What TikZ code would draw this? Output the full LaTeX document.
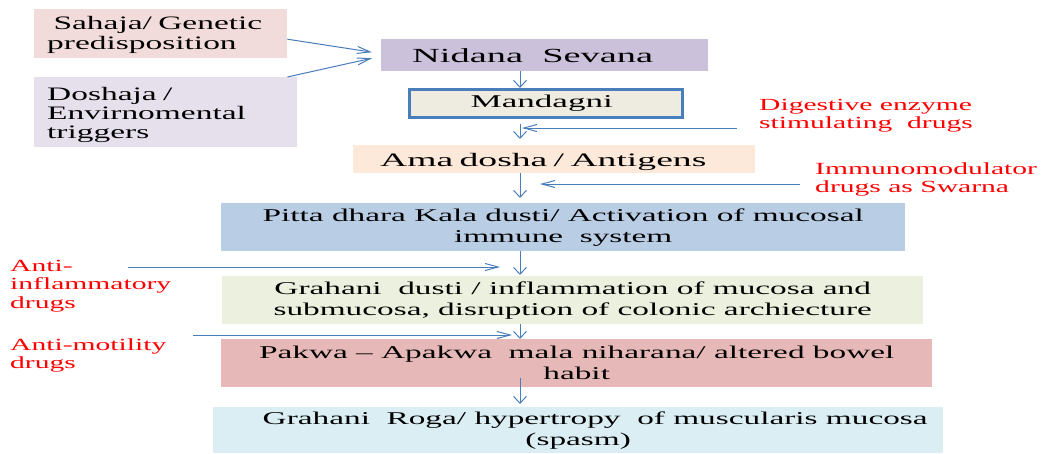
\documentclass[tikz,border=0pt]{standalone}
\usepackage{fontspec}
\setmainfont{Liberation Serif}[FakeStretch=1.85]
\newfontfamily\causefont{Liberation Serif}[FakeStretch=1.76]
\newfontfamily\titlefont{Liberation Serif}[FakeStretch=1.92]
\newfontfamily\agnifont{Liberation Serif}[FakeStretch=1.95]
\newfontfamily\amafont{Liberation Serif}[FakeStretch=1.98]
\newfontfamily\drugfont{Liberation Serif}[FakeStretch=1.74]
\usetikzlibrary{arrows.meta}
\definecolor{cSah}{HTML}{F2DCDB}
\definecolor{cDos}{HTML}{E6E0EC}
\definecolor{cNid}{HTML}{CCC1DA}
\definecolor{cMan}{HTML}{EEECE1}
\definecolor{cAma}{HTML}{FDE9D9}
\definecolor{cPit}{HTML}{B9CDE5}
\definecolor{cGrd}{HTML}{EBF1DE}
\definecolor{cPak}{HTML}{E6B9B8}
\definecolor{cRog}{HTML}{DBEEF4}
\definecolor{cLine}{HTML}{4A7EBB}
\definecolor{cDrug}{HTML}{FF0000}
\begin{document}
\begin{tikzpicture}[x=1pt,y=-1pt,
  box/.style={draw=none, inner sep=0pt, anchor=north west, align=center,
    font=\fontsize{18}{21}\selectfont},
  leftbox/.style={box, align=left},
  drug/.style={inner sep=0pt, anchor=north west, align=left, text=cDrug,
    font=\drugfont\fontsize{17}{18.5}\selectfont},
  varr/.style={draw=cLine, line width=1pt, -{Straight Barb[length=7pt,width=13pt]}},
  harr/.style={draw=cLine, line width=1pt, -{Straight Barb[length=13pt,width=7pt]}}]
\useasboundingbox (0,0) rectangle (1041,453);

% causes
\node[leftbox, fill=cSah, minimum width=253pt, minimum height=49pt, inner xsep=13pt,
  text width=227pt, font=\causefont\fontsize{19}{20}\selectfont] (sah) at (34,9)
  {\rule{0pt}{16.2pt}\ Sahaja/ Genetic\\predisposition};
\node[leftbox, fill=cDos, minimum width=263pt, minimum height=70pt, inner xsep=13pt,
  text width=237pt, font=\causefont\fontsize{19}{19}\selectfont] (dos) at (34,77)
  {\rule{0pt}{18pt}Doshaja /\\Envirnomental\\triggers};

% main chain
\node[box, fill=cNid, minimum width=327pt, minimum height=32pt,
  font=\titlefont\fontsize{20}{22}\selectfont] (nid) at (381,39)
  {\hspace*{-24pt}Nidana\ \ Sevana};
\node[box, fill=cMan, draw=cLine, line width=2.5pt, minimum width=273pt, minimum height=28pt,
  font=\agnifont\fontsize{18}{20}\selectfont] (man) at (408,88)
  {\hspace*{-8pt}Mandagni};
\node[leftbox, fill=cAma, minimum width=402pt, minimum height=28pt, inner xsep=27pt,
  text width=348pt, font=\amafont\fontsize{19}{21}\selectfont] (ama) at (353,145)
  {\rule{0pt}{18pt}Ama dosha / Antigens};
\node[box, fill=cPit, minimum width=684pt, minimum height=48pt] (pit) at (221,203)
  {Pitta dhara Kala dusti/ Activation of mucosal\\immune\ \ system};
\node[box, fill=cGrd, minimum width=701pt, minimum height=48pt] (grd) at (222,276)
  {Grahani\ \ dusti / inflammation of mucosa and\\submucosa, disruption of colonic archiecture};
\node[box, fill=cPak, minimum width=711pt, minimum height=48pt] (pak) at (221,339)
  {Pakwa -- Apakwa\ \ mala niharana/ altered bowel\\habit};
\node[box, fill=cRog, minimum width=730pt, minimum height=46pt] (rog) at (213,407)
  {\hspace*{34pt}Grahani\ \ Roga/ hypertropy\ \ of muscularis mucosa\\(spasm)};

% drugs
\node[drug] (tdig) at (759,99) {Digestive enzyme\\stimulating\ \ drugs};
\node[drug] (timm) at (815,162) {Immunomodulator\\drugs as Swarna};
\node[drug] (tinf) at (10,260) {Anti-\\inflammatory\\drugs};
\node[drug] (tmot) at (10,338) {Anti-motility\\drugs};

% connectors
\coordinate (spine) at (520,0);
\draw[harr] ([yshift=-5.5pt]sah.east) -- ([xshift=-9pt,yshift=3pt]nid.west);
\draw[harr] ([xshift=-10pt]dos.north east) -- ([xshift=-9pt,yshift=-3pt]nid.west);

\draw[varr] (nid.south -| spine) -- (man.north -| spine);
\draw[varr, shorten <=5pt, shorten >=6pt] (man.south -| spine) -- (ama.north -| spine);
\draw[varr, shorten >=5pt] (ama.south -| spine) -- (pit.north -| spine);
\draw[varr, shorten >=1pt] (pit.south -| spine) -- (grd.north -| spine);
\draw[varr] (grd.south -| spine) -- (pak.north -| spine);
\draw[varr, shorten <=-9pt, shorten >=3pt] (pak.south -| spine) -- (rog.north -| spine);

\coordinate (digFrom) at (737,128);
\coordinate (digTo) at (522,128);
\coordinate (immFrom) at (800,184);
\coordinate (immTo) at (540,184);
\coordinate (infFrom) at (128,267);
\coordinate (infTo) at (500,267);
\coordinate (motFrom) at (193,335);
\coordinate (motTo) at (512,335);
\draw[harr] (digFrom) -- (digTo);
\draw[harr] (immFrom) -- (immTo);
\draw[harr] (infFrom) -- (infTo);
\draw[harr] (motFrom) -- (motTo);
\end{tikzpicture}
\end{document}
